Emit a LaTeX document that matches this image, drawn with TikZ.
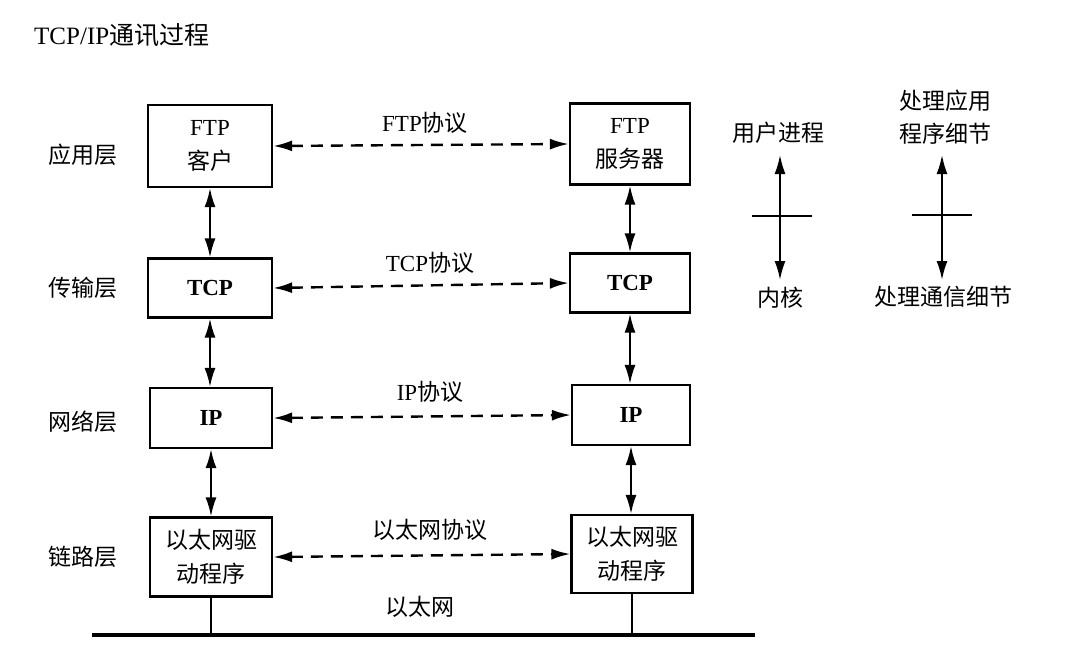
\documentclass[tikz,border=0pt]{standalone}
\usepackage{fontspec}
\setmainfont{Liberation Serif}
\newfontfamily\cjk{Noto Sans CJK SC}
\usetikzlibrary{arrows.meta}
\tikzset{
  tip/.tip={Latex[length=19pt,width=11pt]},
  box/.style={draw, line width=2.2pt, inner sep=0pt, align=center,
              font=\fontsize{23}{34}\selectfont},
  lbl/.style={inner sep=0pt, font=\fontsize{23}{33}\selectfont\cjk},
  plbl/.style={inner sep=0pt, font=\fontsize{23}{26}\selectfont},
  vlink/.style={line width=2pt, tip-tip},
  hlink/.style={line width=2.4pt, dash pattern=on 12pt off 8pt, tip-tip},
  thin/.style={line width=1.6pt},
}
\begin{document}
\begin{tikzpicture}[x=1pt,y=-1pt]
\useasboundingbox (0,0) rectangle (1076,654);
\fill[white] (0,0) rectangle (1076,654);

% title
\node[anchor=west, inner sep=0pt, font=\fontsize{25}{28}\selectfont] (title) at (34,35) {TCP/IP{\cjk 通讯过程}};

% layer labels
\node[lbl] (l1) at (83,155) {应用层};
\node[lbl] (l2) at (83,288) {传输层};
\node[lbl] (l3) at (83,422) {网络层};
\node[lbl] (l4) at (83,557) {链路层};

% left stack
\node[box, minimum width=124pt, minimum height=82pt] (ftpc) at (210,146) {FTP\\{\cjk 客户}};
\node[box, minimum width=124pt, minimum height=59pt] (tcpc) at (210,288) {\bfseries TCP};
\node[box, minimum width=122pt, minimum height=60pt] (ipc) at (211,418) {\bfseries IP};
\node[box, minimum width=122pt, minimum height=79pt] (ethc) at (211,557) {\cjk 以太网驱\\\cjk 动程序};

% right stack
\node[box, minimum width=120pt, minimum height=81pt] (ftps) at (630,144) {FTP\\{\cjk 服务器}};
\node[box, minimum width=120pt, minimum height=59pt] (tcps) at (630,283) {\bfseries TCP};
\node[box, minimum width=118pt, minimum height=60pt] (ips) at (631,415) {\bfseries IP};
\node[box, minimum width=121pt, minimum height=78pt] (eths) at (632,554) {\cjk 以太网驱\\\cjk 动程序};

% vertical links
\draw[vlink] (ftpc.south) -- (tcpc.north);
\draw[vlink] (tcpc.south) -- (ipc.north -| tcpc.south);
\draw[vlink] (ipc.south) -- (ethc.north);
\draw[vlink] (ftps.south) -- (tcps.north);
\draw[vlink] (tcps.south) -- (ips.north -| tcps.south);
\draw[vlink] (ips.south) -- (eths.north -| ips.south);

% protocol links
\draw[hlink] (ftpc.east) -- (ftps.west);
\draw[hlink] (tcpc.east) -- (tcps.west);
\draw[hlink] (ipc.east) -- (ips.west);
\draw[hlink] (ethc.east) -- (eths.west);

\node[plbl] (p1) at (425,123) {FTP{\cjk 协议}};
\node[plbl] (p2) at (430,263) {TCP{\cjk 协议}};
\node[plbl] (p3) at (430,392) {IP{\cjk 协议}};
\node[plbl] (p4) at (430,530) {\cjk 以太网协议};
\node[plbl] (p5) at (420,607) {\cjk 以太网};

% ethernet bus
\coordinate (busL) at (92,635);
\coordinate (busR) at (755,635);
\draw[line width=4.5pt] (busL) -- (busR);
\draw[thin] (ethc.south) -- (ethc.south |- busL);
\draw[thin] (eths.south) -- (eths.south |- busL);

% legend 1
\node[lbl] (u1) at (778,133) {用户进程};
\node[lbl] (k1) at (780,298) {内核};
\coordinate (a1) at (780,155);
\coordinate (b1) at (780,280);
\draw[vlink] (a1) -- (b1);
\coordinate (c1l) at (752,216);
\coordinate (c1r) at (812,216);
\draw[thin, line width=2pt] (c1l) -- (c1r);

% legend 2
\node[lbl, align=center] (u2) at (945,117) {处理应用\\程序细节};
\node[lbl] (k2) at (943,297) {处理通信细节};
\coordinate (a2) at (942,155);
\coordinate (b2) at (942,280);
\draw[vlink] (a2) -- (b2);
\coordinate (c2l) at (912,215);
\coordinate (c2r) at (972,215);
\draw[thin, line width=2pt] (c2l) -- (c2r);
\end{tikzpicture}
\end{document}
